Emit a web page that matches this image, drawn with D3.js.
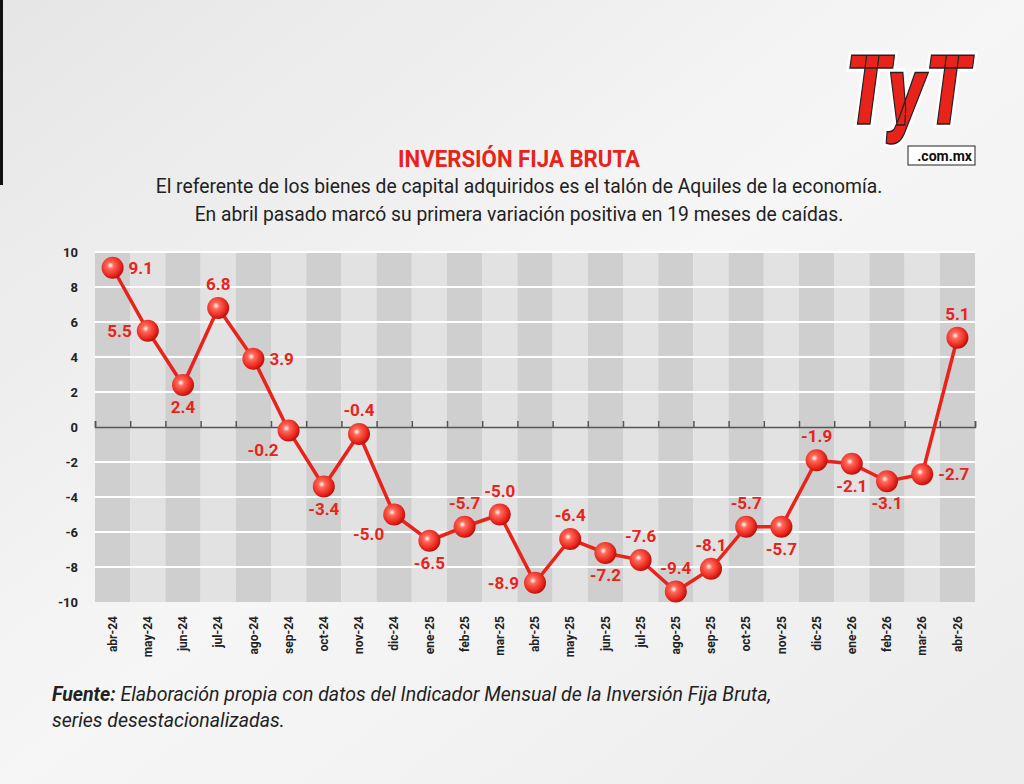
<!DOCTYPE html>
<html><head><meta charset="utf-8">
<script src="https://cdn.jsdelivr.net/npm/d3@7"></script>
<style>body{margin:0;background:#eee;}svg{display:block;}</style>
</head><body><svg id="chart" width="1024" height="784"></svg>
<script>
// meses y variacion anual (%), con posicion de la etiqueta
var data = [
  ["abr-24",9.1,"r"],["may-24",5.5,"l"],["jun-24",2.4,"b"],["jul-24",6.8,"t"],
  ["ago-24",3.9,"r"],["sep-24",-0.2,"lb"],["oct-24",-3.4,"b"],["nov-24",-0.4,"t"],
  ["dic-24",-5.0,"lb"],["ene-25",-6.5,"b"],["feb-25",-5.7,"t"],["mar-25",-5.0,"t"],
  ["abr-25",-8.9,"l"],["may-25",-6.4,"t"],["jun-25",-7.2,"b"],["jul-25",-7.6,"t"],
  ["ago-25",-9.4,"t"],["sep-25",-8.1,"t"],["oct-25",-5.7,"t"],["nov-25",-5.7,"b"],
  ["dic-25",-1.9,"t"],["ene-26",-2.1,"b"],["feb-26",-3.1,"b"],["mar-26",-2.7,"r"],
  ["abr-26",5.1,"t"]
].map(function(d){return {m:d[0],v:d[1],p:d[2]};});

var fmt = v => d3.format(".1f")(v).replace("−","-");
var svg = d3.select("#chart");
var defs = svg.append("defs");
var bg = defs.append("linearGradient").attr("id","bg").attr("x1",0).attr("y1",0).attr("x2",1).attr("y2",1);
bg.append("stop").attr("offset","0").attr("stop-color","#e6e6e6");
bg.append("stop").attr("offset","0.5").attr("stop-color","#f6f6f6");
bg.append("stop").attr("offset","1").attr("stop-color","#ececec");
var rg = defs.append("radialGradient").attr("id","ball").attr("cx","0.4").attr("cy","0.4").attr("r","0.6");
rg.append("stop").attr("offset","0").attr("stop-color","#fff");
rg.append("stop").attr("offset","0.25").attr("stop-color","#ff6a5a");
rg.append("stop").attr("offset","0.8").attr("stop-color","#e8231b");
rg.append("stop").attr("offset","1").attr("stop-color","#b81410");

svg.append("rect").attr("width",1024).attr("height",784).attr("fill","url(#bg)");
svg.append("rect").attr("x",0).attr("y",0).attr("width",3).attr("height",185).attr("fill","#111");

var x = d3.scaleBand().domain(data.map(d=>d.m)).range([95,975]);
var y = d3.scaleLinear().domain([-10,10]).range([602,252]);

// columnas alternadas
svg.selectAll(".col").data(data).enter().append("rect")
  .attr("x",d=>x(d.m)).attr("y",y(10)).attr("width",x.bandwidth()).attr("height",y(-10)-y(10))
  .attr("fill",(d,i)=>i%2==0?"#cfcfcf":"#e2e2e2");

// rejilla
svg.selectAll(".grid").data(d3.range(-8,11,2).filter(v=>v!=0)).enter().append("line")
  .attr("x1",95).attr("x2",975).attr("y1",d=>y(d)).attr("y2",d=>y(d))
  .attr("stroke","#fff").attr("stroke-width",2);

// eje y
var yAxis = svg.append("g").attr("transform","translate(78,0)")
  .call(d3.axisLeft(y).tickValues(d3.range(-10,11,2)).tickSize(0).tickPadding(0).tickFormat(d=>String(d)));
yAxis.select(".domain").remove();
yAxis.selectAll("text").attr("font-family","Roboto, sans-serif").attr("font-weight","bold")
  .attr("font-size",13).attr("fill","#222");

// linea de cero con marcas
var zero = svg.append("g").attr("transform","translate(0,"+y(0)+")")
  .call(d3.axisBottom(d3.scaleLinear().domain([0,25]).range([95,975])).ticks(25).tickSize(-6).tickFormat(""));
zero.select(".domain").attr("stroke","#555").attr("stroke-width",1.5);
zero.selectAll("line").attr("stroke","#555").attr("stroke-width",1.5);

// eje x
var xAxis = svg.append("g").attr("transform","translate(0,612)")
  .call(d3.axisBottom(x).tickSize(0).tickPadding(0));
xAxis.select(".domain").remove();
xAxis.selectAll(".tick text").attr("font-family","Roboto, sans-serif").attr("font-weight","bold")
  .attr("font-size",12).attr("fill","#222")
  .attr("transform","rotate(-90)").attr("text-anchor","end").attr("x",-4).attr("y",0).attr("dy","0.35em");

var cx = d=>x(d.m)+x.bandwidth()/2;
svg.append("path").datum(data)
  .attr("d",d3.line().x(cx).y(d=>y(d.v)))
  .attr("fill","none").attr("stroke","#e8231b").attr("stroke-width",3.5);

svg.selectAll(".pt").data(data).enter().append("circle")
  .attr("cx",cx).attr("cy",d=>y(d.v)).attr("r",11)
  .attr("fill","url(#ball)");

var off = {r:[16,6,"start"],l:[-16,6,"end"],t:[0,-18,"middle"],b:[0,28,"middle"],lb:[-10,25,"end"]};
svg.selectAll(".lab").data(data).enter().append("text")
  .attr("x",d=>cx(d)+off[d.p][0]).attr("y",d=>y(d.v)+off[d.p][1])
  .attr("text-anchor",d=>off[d.p][2])
  .attr("font-family","Roboto, sans-serif").attr("font-weight","bold").attr("font-size",17)
  .attr("fill","#e8231b").text(d=>fmt(d.v));

// titulos
svg.append("text").attr("x",519).attr("y",167).attr("text-anchor","middle")
  .attr("font-family","Roboto, sans-serif").attr("font-weight","bold").attr("font-size",24)
  .attr("fill","#e8231b").attr("textLength",242).attr("lengthAdjust","spacingAndGlyphs")
  .text("INVERSIÓN FIJA BRUTA");
[["El referente de los bienes de capital adquiridos es el talón de Aquiles de la economía.",193],
 ["En abril pasado marcó su primera variación positiva en 19 meses de caídas.",221]].forEach(function(t){
  svg.append("text").attr("x",519).attr("y",t[1]).attr("text-anchor","middle")
    .attr("font-family","Roboto, sans-serif").attr("font-size",19.3).attr("fill","#222").text(t[0]);
});

// fuente
var f = svg.append("text").attr("x",52).attr("y",701).attr("font-family","Roboto, sans-serif")
  .attr("font-style","italic").attr("font-size",19.5).attr("fill","#222");
f.append("tspan").attr("font-weight","bold").text("Fuente:");
f.append("tspan").text(" Elaboración propia con datos del Indicador Mensual de la Inversión Fija Bruta,");
svg.append("text").attr("x",52).attr("y",727).attr("font-family","Roboto, sans-serif")
  .attr("font-style","italic").attr("font-size",19.5).attr("fill","#222").text("series desestacionalizadas.");

// logo
[["#e8231b","#fff",8],["none","#222",1.5]].forEach(function(s){
  svg.append("text").attr("x",845).attr("y",124).attr("font-family","Roboto, sans-serif").attr("font-weight","900")
    .attr("font-style","italic").attr("font-size",96).attr("fill",s[0]).attr("stroke",s[1])
    .attr("stroke-width",s[2]).attr("paint-order","stroke")
    .attr("textLength",125).attr("lengthAdjust","spacingAndGlyphs").text("TyT");
});
svg.append("rect").attr("x",908).attr("y",146).attr("width",67).attr("height",19).attr("fill","#fff").attr("stroke","#222");
svg.append("text").attr("x",972).attr("y",161).attr("text-anchor","end").attr("font-family","Roboto, sans-serif")
  .attr("font-weight","bold").attr("font-size",14).attr("fill","#111").text(".com.mx");
</script></body></html>
